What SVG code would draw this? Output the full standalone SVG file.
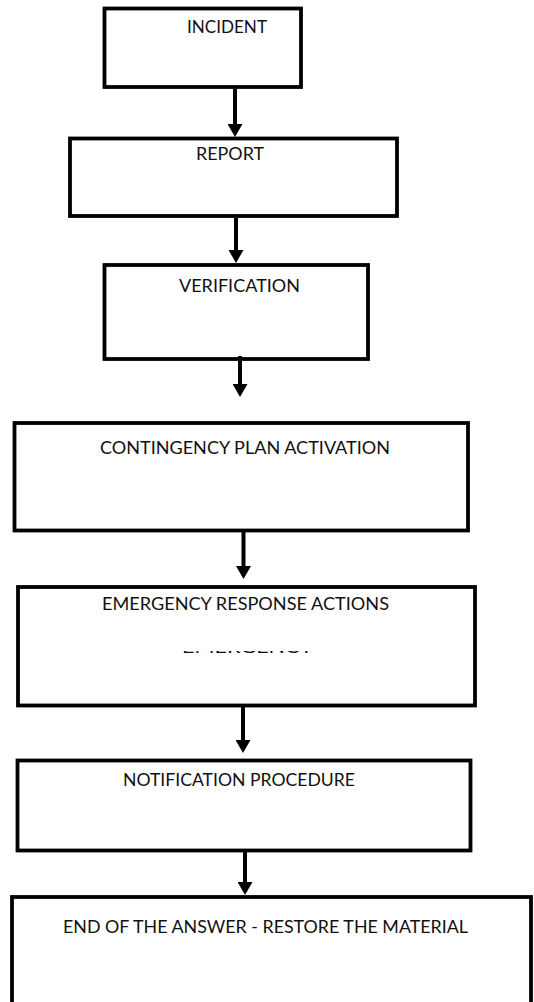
<svg xmlns="http://www.w3.org/2000/svg" width="534" height="1002" viewBox="0 0 534 1002">
  <style>
    .box { fill: #ffffff; stroke: #000000; stroke-width: 3.8; }
    .label { font-family: Lato, "Open Sans", "Liberation Sans", sans-serif; font-size: 18px; fill: #111111; }
    .flow { stroke: #000000; stroke-width: 4; fill: none; marker-end: url(#head); }
  </style>
  <defs>
    <marker id="head" viewBox="0 0 13 15" refX="3" refY="7.5" markerWidth="13" markerHeight="15" markerUnits="userSpaceOnUse" orient="auto">
      <path d="M0,0 L13,7.5 L0,15 z" fill="#000000"/>
    </marker>
    <clipPath id="stub">
      <rect x="170" y="651" width="160" height="2.5"/>
    </clipPath>
  </defs>

  <rect width="534" height="1002" fill="#ffffff"/>

  <g id="incident">
    <rect class="box" x="104.5" y="8.5" width="196.5" height="78.5"/>
    <text class="label" x="187" y="32.5" textLength="80" lengthAdjust="spacingAndGlyphs">INCIDENT</text>
  </g>

  <g id="report">
    <rect class="box" x="70" y="138.5" width="327" height="77.5"/>
    <text class="label" x="196" y="160" textLength="68" lengthAdjust="spacingAndGlyphs">REPORT</text>
  </g>

  <g id="verification">
    <rect class="box" x="104.5" y="265" width="263.5" height="94"/>
    <text class="label" x="179" y="292" textLength="121" lengthAdjust="spacingAndGlyphs">VERIFICATION</text>
  </g>

  <g id="contingency">
    <rect class="box" x="14.5" y="423" width="453.5" height="107.5"/>
    <text class="label" x="100" y="454" textLength="290" lengthAdjust="spacingAndGlyphs">CONTINGENCY PLAN ACTIVATION</text>
  </g>

  <g id="emergency">
    <rect class="box" x="18" y="587" width="457" height="118.5"/>
    <text class="label" x="102" y="610" textLength="287" lengthAdjust="spacingAndGlyphs">EMERGENCY RESPONSE ACTIONS</text>
    <!-- leftover word, mostly hidden: only the feet of the letters show -->
    <text class="label" x="182" y="653" textLength="131" lengthAdjust="spacingAndGlyphs" clip-path="url(#stub)">EMERGENCY</text>
  </g>

  <g id="notification">
    <rect class="box" x="17.5" y="760.5" width="453" height="90"/>
    <text class="label" x="123" y="786" textLength="232" lengthAdjust="spacingAndGlyphs">NOTIFICATION PROCEDURE</text>
  </g>

  <g id="restore">
    <rect class="box" x="12" y="897" width="519" height="130"/>
    <text class="label" x="63" y="933" textLength="405" lengthAdjust="spacingAndGlyphs">END OF THE ANSWER - RESTORE THE MATERIAL</text>
  </g>

  <g id="connectors">
    <line class="flow" x1="235" y1="89" x2="235" y2="127"/>
    <line class="flow" x1="236" y1="218" x2="236" y2="253"/>
    <line class="flow" x1="240" y1="356" x2="240" y2="387"/>
    <line class="flow" x1="243.5" y1="532" x2="243.5" y2="569"/>
    <line class="flow" x1="243" y1="707" x2="243" y2="743"/>
    <line class="flow" x1="245" y1="852" x2="245" y2="885"/>
  </g>
</svg>
